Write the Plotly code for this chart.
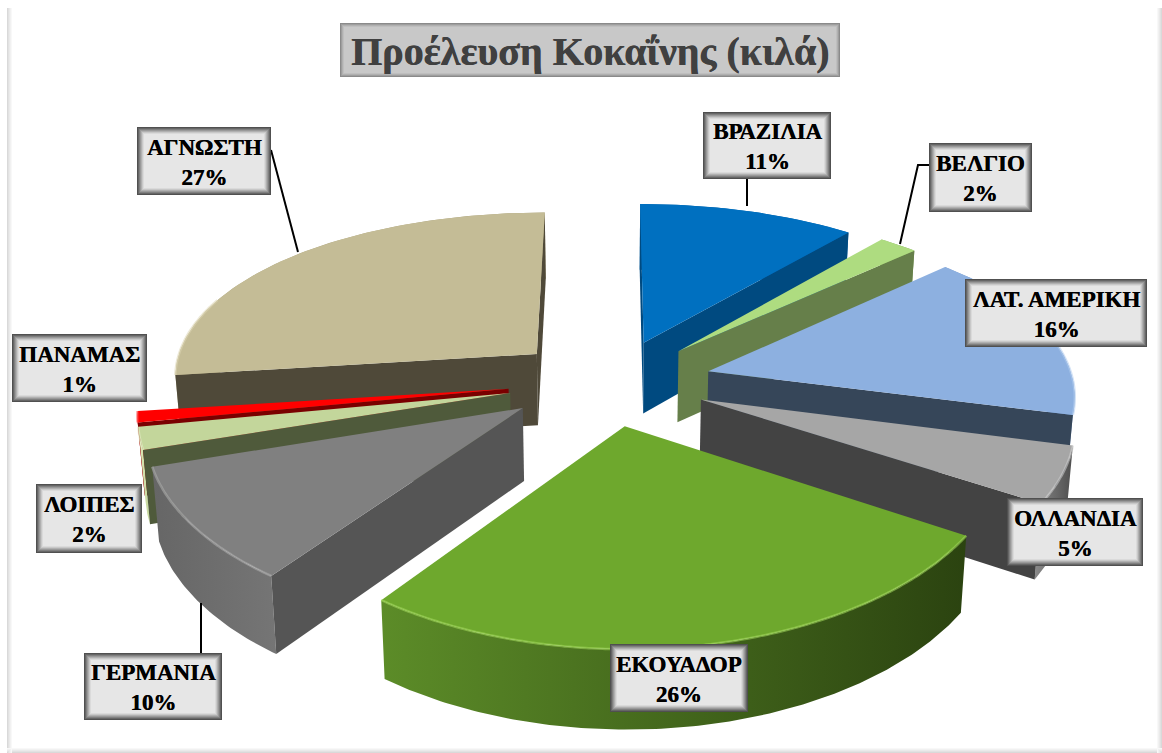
import numpy as np
import plotly.graph_objects as go

categories = ["ΒΡΑΖΙΛΙΑ", "ΒΕΛΓΙΟ", "ΛΑΤ. ΑΜΕΡΙΚΗ", "ΟΛΛΑΝΔΙΑ", "ΕΚΟΥΑΔΟΡ", "ΓΕΡΜΑΝΙΑ", "ΛΟΙΠΕΣ", "ΠΑΝΑΜΑΣ", "ΑΓΝΩΣΤΗ"]
values = [11, 2, 16, 5, 26, 10, 2, 1, 27]
title_text = "Προέλευση Κοκαΐνης (κιλά)"

top_colors = ["#0070C0", "#AEDC80", "#8DB0E0", "#A6A6A6", "#6EA82D", "#808080", "#C3D69B", "#FF0000", "#C4BC96"]
wall_colors = ["#004A80", "#667F4A", "#364659", "#434343", "#2D4611", "#555555", "#4F5A3B", "#7A0000", "#4F4939"]
arc_left = ["#0060A8", "#7C9E58", "#7C9CCB", "#8A8A8A", "#5C8C28", "#666666", "#DDE8B8", "#E00000", "#B0A780"]
arc_right = ["#0060A8", "#7C9E58", "#6C8CB8", "#4E4E4E", "#2B4310", "#757575", "#C3D69B", "#E00000", "#A89F7A"]
rim_colors = ["#2C8AD0", "#C8EAA0", "#B0CCF0", "#D0D0D0", "#A4DC5C", "#B0B0B0", "#E6F0C8", "#FF4040", "#DDD6B4"]

# label box geometry: x0, y0, x1, y1 in page pixels
boxes = [(703, 112, 831, 179), (929, 143, 1032, 212), (965, 279, 1147, 347), (1007, 498, 1143, 566),
         (610, 644, 748, 712), (84, 653, 222, 720), (36, 484, 142, 553), (12, 334, 147, 402), (137, 127, 271, 195)]
leaders = [([747, 747], [179, 206]),
           ([929, 918, 900], [165, 165, 244]),
           ([271, 298], [150, 252]),
           ([201, 201], [653, 603])]

CX, CY, AX, BY, PX, PY, HT, EXPL, EXPL_Y = 610, 382, 365, 172, 0.12, 0.158, 72, 0.28, 0.252
SLICE_SHIFT = [0, 0, 0, -4, -5, -3, 0, 0, 2]


def project(X, Y, Z=0.0):
    X, Y = np.asarray(X, float), np.asarray(Y, float)
    gx = 1 / (1 + PX * Y)
    gy = 1 / (1 + PY * Y)
    shrink = 1 - 0.015 * Z
    return CX + AX * X * gx * shrink, CY - BY * Y * gy + HT * Z * np.sqrt(gy)


def poly(xs, ys, color=None, grad=None):
    kw = dict(x=np.r_[xs, xs[0]], y=np.r_[ys, ys[0]], mode="lines", fill="toself", line=dict(width=0),
              hoverinfo="skip", showlegend=False)
    if grad:
        kw["fillgradient"] = dict(type="horizontal", colorscale=[[0, grad[0]], [1, grad[1]]])
    else:
        kw["fillcolor"] = color
    return go.Scatter(**kw)


fig = go.Figure()
total = sum(values)
edges = np.cumsum([0] + values) / total * 2 * np.pi
mids = (edges[:-1] + edges[1:]) / 2
order = np.argsort(-np.cos(mids))

for i in order:
    t0, t1, tm = edges[i], edges[i + 1], mids[i]
    ax, ay = EXPL * np.sin(tm), EXPL_Y * np.cos(tm)
    th = np.linspace(t0, t1, max(8, int(values[i] * 5)))
    ox, oy = ax + np.sin(th), ay + np.cos(th)
    dx = SLICE_SHIFT[i]

    # curved outer wall
    tx, ty = project(ox, oy, 0)
    bx, by = project(ox, oy, 1)
    tx, bx = tx + dx, bx + dx
    fig.add_trace(poly(np.r_[tx, bx[::-1]], np.r_[ty, by[::-1]], grad=(arc_left[i], arc_right[i])))

    # radial walls (only those facing the viewer)
    for (ex, ey, sign) in ((ox[0], oy[0], 1), (ox[-1], oy[-1], -1)):
        qx0, qy0 = project([ax, ex], [ay, ey], 0)
        qx1, qy1 = project([ex, ax], [ey, ay], 1)
        qx, qy = np.r_[qx0, qx1] + dx, np.r_[qy0, qy1]
        area = 0.5 * np.sum(qx * np.roll(qy, -1) - np.roll(qx, -1) * qy)
        if area * sign < 0:
            fig.add_trace(poly(qx, qy, color=wall_colors[i]))

    # top face
    px, py = project(np.r_[ax, ox], np.r_[ay, oy], 0)
    fig.add_trace(poly(px + dx, py, color=top_colors[i]))

    # soft rim on the near part of the arc
    near = np.cos(th) < 0.35
    if near.sum() > 1:
        fig.add_trace(go.Scatter(x=tx[near], y=ty[near], mode="lines", opacity=0.55,
                                 line=dict(color=rim_colors[i], width=2.5, shape="spline"),
                                 hoverinfo="skip", showlegend=False))

for lx, ly in leaders:
    fig.add_trace(go.Scatter(x=lx, y=ly, mode="lines", line=dict(color="#000000", width=2),
                             hoverinfo="skip", showlegend=False))

shapes = []
# outer chart frame: soft bands on the left, right and bottom
frame_fade = ["#D9D9D9", "#E2E2E2", "#EAEAEA", "#F1F1F1", "#F8F8F8"]
for k, c in enumerate(frame_fade):
    shapes.append(dict(type="rect", xref="x", yref="y", x0=7 + k, x1=8 + k, y0=8, y1=753,
                       fillcolor=c, line=dict(width=0), layer="below"))
    shapes.append(dict(type="rect", xref="x", yref="y", x0=1161 - k, x1=1162 - k, y0=8, y1=753,
                       fillcolor=c, line=dict(width=0), layer="below"))
    shapes.append(dict(type="rect", xref="x", yref="y", x0=7, x1=1162, y0=752 - k, y1=753 - k,
                       fillcolor=c, line=dict(width=0), layer="below"))


def bevel(x0, y0, x1, y1, steps, fill):
    for k, c in enumerate(steps + [fill]):
        shapes.append(dict(type="rect", xref="x", yref="y", x0=x0 + k, y0=y0 + k, x1=x1 - k, y1=y1 - k,
                           fillcolor=c, line=dict(width=0), layer="above"))


label_steps = ["#505050", "#666666", "#808080", "#999999", "#B0B0B0", "#C8C8C8", "#DADADA"]
for b in boxes:
    bevel(*b, label_steps, "#E6E6E6")
bevel(340, 23, 840, 77, ["#8A8A8A", "#9E9E9E", "#B0B0B0", "#BEBEBE"], "#C8C8C8")

annotations = [dict(x=590, y=51, xref="x", yref="y", text="<b>%s</b>" % title_text, showarrow=False,
                    font=dict(family="Liberation Serif", size=40, color="#404040", shadow="0.5px 0 0 #404040"))]
for b, name, v in zip(boxes, categories, values):
    annotations.append(dict(x=(b[0] + b[2]) / 2, y=(b[1] + b[3]) / 2 + 1, xref="x", yref="y",
                            text="<b>%s<br>%d%%</b>" % (name, round(v / total * 100)), showarrow=False,
                            font=dict(family="Liberation Serif", size=23, color="#000000",
                                      shadow="0.5px 0 0 #000000")))

fig.update_layout(width=1162, height=753, margin=dict(l=0, r=0, t=0, b=0),
                  paper_bgcolor="#FFFFFF", plot_bgcolor="#FFFFFF", showlegend=False,
                  xaxis=dict(range=[0, 1162], visible=False, fixedrange=True),
                  yaxis=dict(range=[753, 0], visible=False, fixedrange=True),
                  shapes=shapes, annotations=annotations)
fig.write_html("out.html", config=dict(displayModeBar=False),
               post_script="document.body.style.margin='0';document.body.style.overflow='hidden';")
